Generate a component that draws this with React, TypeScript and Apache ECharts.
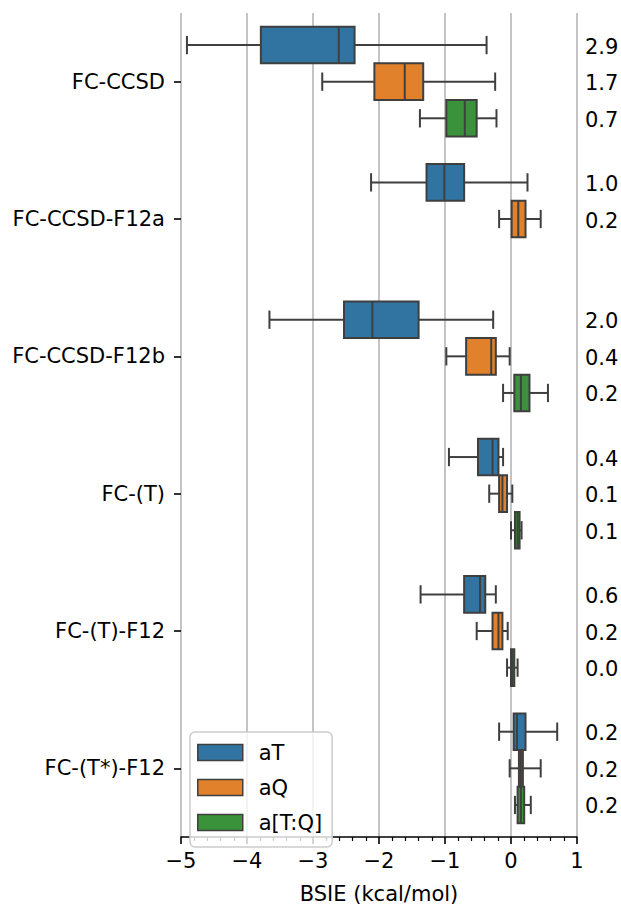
import React, { useEffect, useRef } from 'react';
import * as echarts from 'echarts';

const categories = ['FC-CCSD', 'FC-CCSD-F12a', 'FC-CCSD-F12b', 'FC-(T)', 'FC-(T)-F12', 'FC-(T*)-F12'];
const hueNames = ['aT', 'aQ', 'a[T:Q]'];
const hueColors = ['#3274a1', '#e1812c', '#3a923a'];

// [min, q1, median, q3, max] per category; null = no data
const statsT = [
  [-4.91, -3.79, -2.61, -2.37, -0.37],
  [-2.12, -1.28, -1.01, -0.71, 0.25],
  [-3.66, -2.53, -2.1, -1.4, -0.27],
  [-0.94, -0.5, -0.28, -0.19, -0.12],
  [-1.37, -0.71, -0.47, -0.39, -0.23],
  [-0.18, 0.04, 0.09, 0.22, 0.7],
];
const statsQ = [
  [-2.86, -2.07, -1.61, -1.33, -0.24],
  [-0.18, 0.01, 0.11, 0.22, 0.45],
  [-0.98, -0.68, -0.3, -0.23, -0.02],
  [-0.33, -0.18, -0.13, -0.06, 0.02],
  [-0.52, -0.28, -0.19, -0.13, -0.05],
  [-0.02, 0.12, 0.15, 0.18, 0.45],
];
const statsTQ = [
  [-1.38, -0.98, -0.7, -0.52, -0.22],
  null,
  [-0.12, 0.05, 0.15, 0.28, 0.56],
  [0.0, 0.06, 0.1, 0.13, 0.16],
  [-0.06, 0.0, 0.02, 0.05, 0.1],
  [0.06, 0.1, 0.15, 0.2, 0.3],
];
const labelsT = ['2.9', '1.0', '2.0', '0.4', '0.6', '0.2'];
const labelsQ = ['1.7', '0.2', '0.4', '0.1', '0.2', '0.2'];
const labelsTQ = ['0.7', null, '0.2', '0.1', '0.0', '0.2'];

const xTicks = [-5, -4, -3, -2, -1, 0, 1];

const FONT = 'DejaVu Sans';
const EDGE = '#3f3f3f';

function buildData(stats: (number[] | null)[]) {
  const out: any[] = [];
  stats.forEach((s, i) => {
    if (!s) return;
    out.push([i, s[0], s[1], s[2], s[3], s[4]]);
  });
  return out;
}

function makeRender(hue: number, color: string, labels: (string | null)[]) {
  return (params: any, api: any) => {
    const cat = api.value(0);
    const lo = api.value(1), q1 = api.value(2), med = api.value(3), q3 = api.value(4), hi = api.value(5);
    const band = api.size([0, 1])[1];
    const w = (band * 0.8) / 3;
    const cy = api.coord([0, cat])[1] + (hue - 1) * w;
    const pLo = api.coord([lo, cat])[0];
    const pQ1 = api.coord([q1, cat])[0];
    const pMed = api.coord([med, cat])[0];
    const pQ3 = api.coord([q3, cat])[0];
    const pHi = api.coord([hi, cat])[0];
    const pRight = api.coord([xTicks[xTicks.length - 1], cat])[0];
    const lineStyle = { stroke: EDGE, lineWidth: 2 };
    const cap = w / 4;
    const label = labels[cat] ?? '';
    return {
      type: 'group',
      children: [
        { type: 'line', shape: { x1: pLo, y1: cy, x2: pQ1, y2: cy }, style: lineStyle },
        { type: 'line', shape: { x1: pQ3, y1: cy, x2: pHi, y2: cy }, style: lineStyle },
        { type: 'line', shape: { x1: pLo, y1: cy - cap, x2: pLo, y2: cy + cap }, style: lineStyle },
        { type: 'line', shape: { x1: pHi, y1: cy - cap, x2: pHi, y2: cy + cap }, style: lineStyle },
        {
          type: 'rect',
          shape: { x: pQ1, y: cy - w / 2, width: pQ3 - pQ1, height: w },
          style: { fill: color, stroke: EDGE, lineWidth: 2 },
        },
        { type: 'line', shape: { x1: pMed, y1: cy - w / 2, x2: pMed, y2: cy + w / 2 }, style: lineStyle },
        {
          type: 'text',
          style: {
            text: label,
            x: pRight + 8,
            y: cy + 1.5,
            fill: '#000',
            font: `21px "${FONT}"`,
            align: 'left',
            verticalAlign: 'middle',
          },
        },
      ],
    };
  };
}

export default function App() {
  const ref = useRef<HTMLDivElement>(null);
  useEffect(() => {
    if (!ref.current) return;
    const chart = echarts.init(ref.current, undefined, { renderer: 'svg' });
    const allStats = [statsT, statsQ, statsTQ];
    const allLabels = [labelsT, labelsQ, labelsTQ];
    const series = hueNames.map((name, h) => ({
      type: 'custom',
      name,
      itemStyle: { color: hueColors[h] },
      encode: { x: [1, 2, 3, 4, 5], y: 0 },
      dimensions: ['cat', 'min', 'q1', 'med', 'q3', 'max'],
      data: buildData(allStats[h]),
      renderItem: makeRender(h, hueColors[h], allLabels[h]),
      clip: false,
    }));
    chart.setOption({
      animation: false,
      backgroundColor: '#fff',
      textStyle: { fontFamily: FONT },
      grid: { left: 181, right: 44, top: 13, bottom: 66, containLabel: false },
      xAxis: {
        type: 'value',
        min: -5,
        max: 1,
        interval: 1,
        name: 'BSIE (kcal/mol)',
        nameLocation: 'middle',
        nameGap: 46,
        nameTextStyle: { fontFamily: FONT, fontSize: 21, color: '#000' },
        axisLine: { show: true, onZero: false, lineStyle: { color: '#000', width: 1.6 } },
        axisTick: { show: true, length: 7, lineStyle: { color: '#000', width: 1.6 } },
        minorTick: { show: true, splitNumber: 5, length: 4, lineStyle: { color: '#000', width: 1.2 } },
        axisLabel: {
          fontFamily: FONT,
          fontSize: 21,
          color: '#000',
          margin: 13,
          formatter: (v: number) => (v < 0 ? '\u2212' + Math.abs(v) : String(v)),
        },
        splitLine: { show: true, lineStyle: { color: '#b0b0b0', width: 1.5 } },
      },
      yAxis: {
        type: 'category',
        data: categories,
        inverse: true,
        position: 'left',
        axisLine: { show: false, onZero: false },
        axisTick: { show: true, alignWithLabel: true, length: 7, lineStyle: { color: '#000', width: 1.6 } },
        axisLabel: { fontFamily: FONT, fontSize: 21, color: '#000', margin: 16, padding: [3, 0, 0, 0] },
        splitLine: { show: false },
      },
      legend: {
        show: true,
        orient: 'vertical',
        left: 190,
        top: 732,
        padding: [10, 10, 14, 7],
        itemWidth: 45,
        itemHeight: 16,
        itemGap: 14,
        backgroundColor: 'rgba(255,255,255,0.8)',
        borderColor: '#cccccc',
        borderWidth: 1.5,
        borderRadius: 5,
        textStyle: { fontFamily: FONT, fontSize: 21, color: '#000', lineHeight: 16, padding: [0, 0, 0, 11] },
        data: hueNames.map((n, i) => ({
          name: n,
          icon: 'rect',
          itemStyle: { color: hueColors[i], borderColor: EDGE, borderWidth: 1.5 },
        })),
      },
      series,
    });
    return () => chart.dispose();
  }, []);
  return <div ref={ref} style={{ position: 'fixed', left: 0, top: 0, width: 621, height: 909 }} />;
}
